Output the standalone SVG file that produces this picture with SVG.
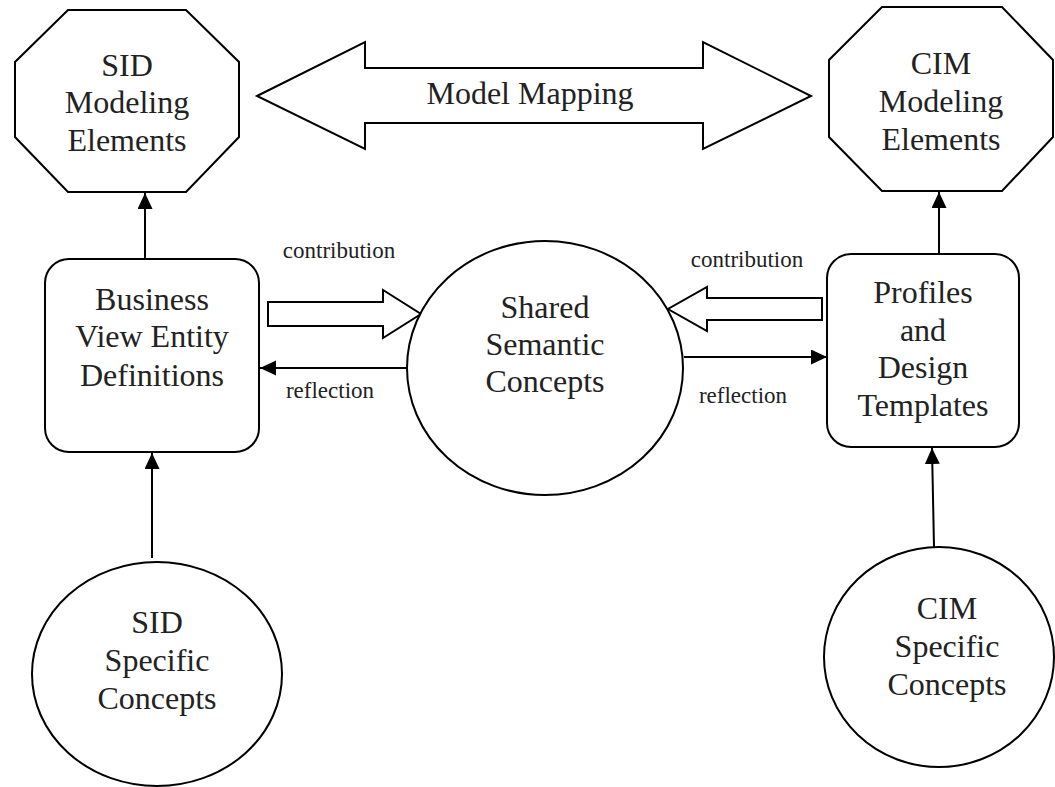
<svg xmlns="http://www.w3.org/2000/svg" width="1055" height="787" viewBox="0 0 1055 787">
<style>
.shape{fill:#fff;stroke:#000;stroke-width:2}
.line{fill:none;stroke:#000;stroke-width:2}
.t{font-family:"Liberation Serif","Times New Roman",serif;font-size:32px;fill:#222;text-anchor:middle}
.s{font-family:"Liberation Serif","Times New Roman",serif;font-size:23px;fill:#222;text-anchor:middle}
</style>
<defs>
<marker id="arr" markerUnits="userSpaceOnUse" markerWidth="18" markerHeight="16" refX="16" refY="7.5" orient="auto">
<path d="M0,0 L16,7.5 L0,15 Z" fill="#000"/>
</marker>
</defs>
<rect width="1055" height="787" fill="#fff"/>
<g id="connectors">
<line class="line" x1="145" y1="259" x2="145" y2="193" marker-end="url(#arr)"/>
<line class="line" x1="939" y1="254" x2="939" y2="192" marker-end="url(#arr)"/>
<line class="line" x1="152" y1="558" x2="152" y2="453" marker-end="url(#arr)"/>
<line class="line" x1="934" y1="547" x2="932" y2="448" marker-end="url(#arr)"/>
<line class="line" x1="407" y1="368" x2="260" y2="368" marker-end="url(#arr)"/>
<line class="line" x1="684" y1="357" x2="827" y2="357" marker-end="url(#arr)"/>
<polygon class="shape" points="268,302 383,302 383,290 421,314 383,338 383,326 268,326"/>
<polygon class="shape" points="822,298 707,298 707,287 668,309 707,331 707,320 822,320"/>
<text class="s" x="339" y="258">contribution</text>
<text class="s" x="330" y="398">reflection</text>
<text class="s" x="747" y="267">contribution</text>
<text class="s" x="743" y="403">reflection</text>
</g>
<g id="model-mapping">
<polygon class="shape" points="257,96 365,42 365,68 703,68 703,42 811,96 703,149 703,123 365,123 365,149"/>
<text class="t" x="530" y="104">Model Mapping</text>
</g>
<g id="sid-modeling">
<polygon class="shape" points="68,10 186,10 239,62 239,137 186,192 68,192 15,137 15,62"/>
<text class="t" x="127" y="76">SID</text>
<text class="t" x="127" y="113">Modeling</text>
<text class="t" x="127" y="151">Elements</text>
</g>
<g id="cim-modeling">
<polygon class="shape" points="882,7 1002,7 1053,60 1053,137 1002,191 882,191 829,137 829,60"/>
<text class="t" x="941" y="74">CIM</text>
<text class="t" x="941" y="112">Modeling</text>
<text class="t" x="941" y="150">Elements</text>
</g>
<g id="business-view">
<rect class="shape" x="45" y="259" width="214" height="193" rx="24"/>
<text class="t" x="152" y="310">Business</text>
<text class="t" x="152" y="347">View Entity</text>
<text class="t" x="152" y="386">Definitions</text>
</g>
<g id="shared-semantic">
<ellipse class="shape" cx="545" cy="368" rx="138" ry="127"/>
<text class="t" x="545" y="318">Shared</text>
<text class="t" x="545" y="355">Semantic</text>
<text class="t" x="545" y="392">Concepts</text>
</g>
<g id="profiles">
<rect class="shape" x="827" y="254" width="192" height="193" rx="24"/>
<text class="t" x="923" y="303">Profiles</text>
<text class="t" x="923" y="341">and</text>
<text class="t" x="923" y="378">Design</text>
<text class="t" x="923" y="416">Templates</text>
</g>
<g id="sid-specific">
<ellipse class="shape" cx="157" cy="674" rx="125" ry="112"/>
<text class="t" x="157" y="633">SID</text>
<text class="t" x="157" y="671">Specific</text>
<text class="t" x="157" y="709">Concepts</text>
</g>
<g id="cim-specific">
<ellipse class="shape" cx="939" cy="657" rx="115" ry="110"/>
<text class="t" x="947" y="619">CIM</text>
<text class="t" x="947" y="657">Specific</text>
<text class="t" x="947" y="695">Concepts</text>
</g>
</svg>
